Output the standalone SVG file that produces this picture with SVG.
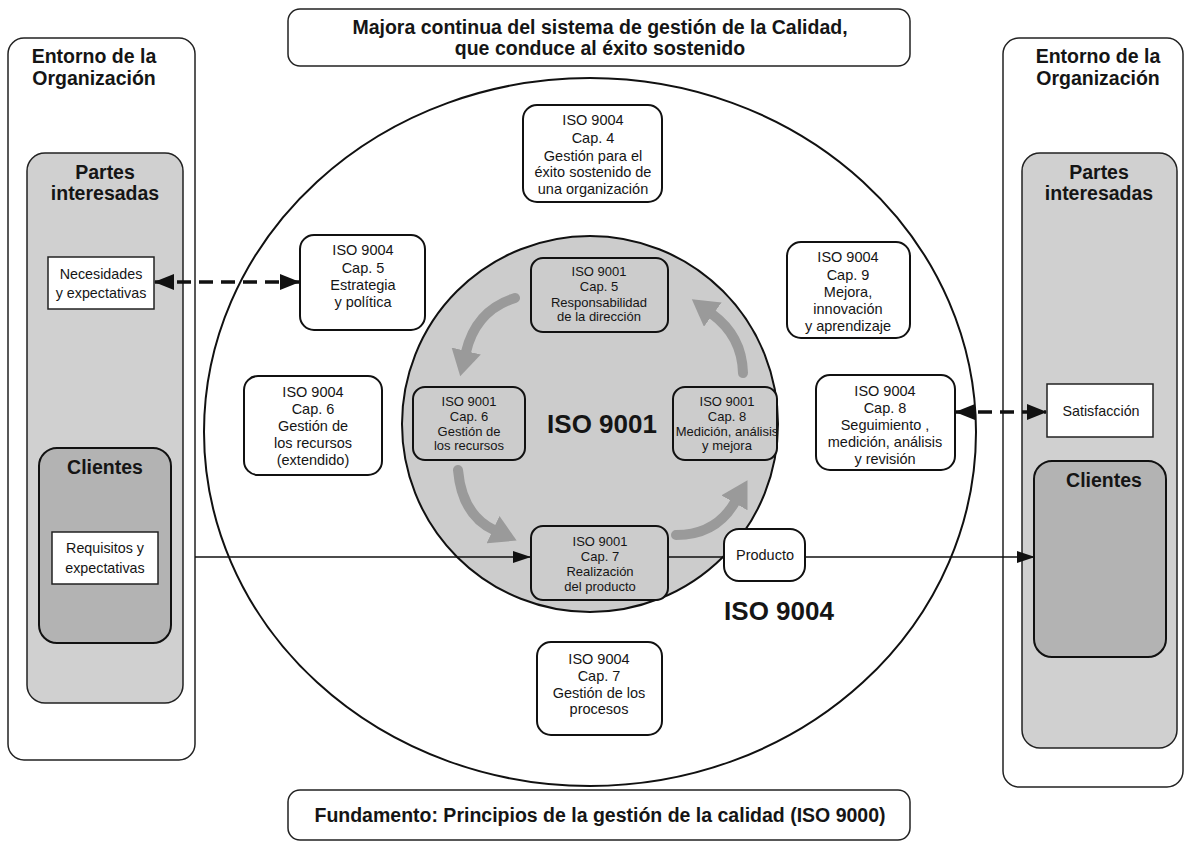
<svg xmlns="http://www.w3.org/2000/svg" width="1185" height="843" viewBox="0 0 1185 843">
<style>
text{font-family:"Liberation Sans",Arial,sans-serif;fill:#151515;text-anchor:middle}
.h{font-size:19.5px;font-weight:bold}
.big{font-size:26px;font-weight:bold}
.t4{font-size:14.5px}
.t1{font-size:13px}
.tn{font-size:14.3px}
.env{fill:#fff;stroke:#222;stroke-width:1.5}
.pi{fill:#d0d0d0;stroke:#222;stroke-width:1.5}
.cl{fill:#b3b3b3;stroke:#111;stroke-width:2}
.wb{fill:#fff;stroke:#222;stroke-width:1.5}
.b4{fill:#fff;stroke:#111;stroke-width:2}
.b1{fill:#cccccc;stroke:#111;stroke-width:2}
.ln{fill:none;stroke:#111;stroke-width:1.5}
.ds{fill:none;stroke:#111;stroke-width:3.5;stroke-dasharray:14 8}
.ga{fill:none;stroke:#9a9a9a;stroke-width:10;stroke-linecap:round}
</style>
<defs>
<marker id="ah" markerUnits="userSpaceOnUse" markerWidth="20" markerHeight="16" refX="19" refY="8" orient="auto-start-reverse">
<path d="M0,0 L20,8 L0,16 z" fill="#111"/>
</marker>
<marker id="ahs" markerUnits="userSpaceOnUse" markerWidth="18" markerHeight="12" refX="17" refY="6" orient="auto">
<path d="M0,0 L18,6 L0,12 z" fill="#111"/>
</marker>
<marker id="ga" markerUnits="userSpaceOnUse" markerWidth="27" markerHeight="30" refX="1" refY="15" orient="auto">
<path d="M0,0 L26,15 L0,30 z" fill="#9a9a9a"/>
</marker>
</defs>

<g id="title"><rect x="288" y="9" width="622" height="57" rx="12" class="wb"/>
<text class="h" x="600" y="34">Majora continua del sistema de gestión de la Calidad,</text>
<text class="h" x="600" y="55">que conduce al éxito sostenido</text></g>

<g id="fundamento"><rect x="288" y="790" width="622" height="50" rx="12" class="wb"/>
<text class="h" x="600" y="822">Fundamento: Principios de la gestión de la calidad (ISO 9000)</text></g>

<g id="entorno-izq"><rect x="8" y="38" width="187" height="722" rx="16" class="env"/>
<text class="h" x="94" y="63">Entorno de la</text><text class="h" x="94" y="85">Organización</text></g>
<g id="partes-izq"><rect x="27" y="153" width="156" height="550" rx="18" class="pi"/>
<text class="h" x="105" y="179">Partes</text><text class="h" x="105" y="200">interesadas</text></g>
<g id="necesidades"><rect x="48" y="257" width="106" height="52" class="wb"/>
<text class="tn" x="101" y="279">Necesidades</text><text class="tn" x="101" y="298">y expectativas</text></g>
<g id="clientes-izq"><rect x="39" y="448" width="132" height="195" rx="18" class="cl"/>
<text class="h" x="105" y="474">Clientes</text></g>
<g id="requisitos"><rect x="52" y="532" width="106" height="52" class="wb"/>
<text class="tn" x="105" y="553">Requisitos y</text><text class="tn" x="105" y="573">expectativas</text></g>

<g id="entorno-der"><rect x="1003" y="38" width="180" height="749" rx="16" class="env"/>
<text class="h" x="1098" y="63">Entorno de la</text><text class="h" x="1098" y="85">Organización</text></g>
<g id="partes-der"><rect x="1022" y="153" width="155" height="595" rx="18" class="pi"/>
<text class="h" x="1099" y="179">Partes</text><text class="h" x="1099" y="200">interesadas</text></g>
<g id="satisfaccion"><rect x="1047" y="384" width="106" height="53" class="wb"/>
<text class="tn" x="1101" y="416">Satisfacción</text></g>
<g id="clientes-der"><rect x="1034" y="461" width="132" height="196" rx="18" class="cl"/>
<text class="h" x="1104" y="487">Clientes</text></g>

<g id="iso9004-circle"><ellipse cx="590" cy="432" rx="386" ry="354" fill="#fff" stroke="#111" stroke-width="2"/>
<text class="big" x="779" y="620">ISO 9004</text></g>
<g id="iso9001-circle"><circle cx="590" cy="424" r="188" fill="#cccccc" stroke="#111" stroke-width="2"/>
<text class="big" x="602" y="433">ISO 9001</text></g>

<g id="connectors">
<line x1="195" y1="557" x2="530" y2="557" class="ln" marker-end="url(#ahs)"/>
<line x1="668" y1="557" x2="724" y2="557" class="ln"/>
<line x1="805" y1="557" x2="1034" y2="557" class="ln" marker-end="url(#ahs)"/>
<line x1="155" y1="282" x2="299" y2="282" class="ds" marker-start="url(#ah)" marker-end="url(#ah)"/>
<line x1="956" y1="412" x2="1046" y2="412" class="ds" marker-start="url(#ah)" marker-end="url(#ah)"/>
<path d="M515,298 Q476,310 466,352" class="ga" marker-end="url(#ga)"/>
<path d="M458,470 Q462,515 494,530" class="ga" marker-end="url(#ga)"/>
<path d="M676,535 Q716,535 735,502" class="ga" marker-end="url(#ga)"/>
<path d="M743,373 Q742,336 712,314" class="ga" marker-end="url(#ga)"/>
</g>

<g id="iso9004-cap4"><rect x="523" y="105" width="139" height="97" rx="14" class="b4"/>
<text class="t4" x="593" y="125">ISO 9004</text><text class="t4" x="593" y="143">Cap. 4</text><text class="t4" x="593" y="161">Gestión para el</text><text class="t4" x="593" y="177">éxito sostenido de</text><text class="t4" x="593" y="194">una organización</text></g>
<g id="iso9004-cap5"><rect x="300" y="235" width="125" height="95" rx="14" class="b4"/>
<text class="t4" x="363" y="255">ISO 9004</text><text class="t4" x="363" y="273">Cap. 5</text><text class="t4" x="363" y="290">Estrategia</text><text class="t4" x="363" y="307">y política</text></g>
<g id="iso9004-cap6"><rect x="244" y="376" width="138" height="99" rx="14" class="b4"/>
<text class="t4" x="313" y="397">ISO 9004</text><text class="t4" x="313" y="414">Cap. 6</text><text class="t4" x="313" y="431">Gestión de</text><text class="t4" x="313" y="448">los recursos</text><text class="t4" x="313" y="465">(extendido)</text></g>
<g id="iso9004-cap7"><rect x="537" y="642" width="125" height="93" rx="14" class="b4"/>
<text class="t4" x="599" y="664">ISO 9004</text><text class="t4" x="599" y="681">Cap. 7</text><text class="t4" x="599" y="698">Gestión de los</text><text class="t4" x="599" y="714">procesos</text></g>
<g id="iso9004-cap9"><rect x="787" y="242" width="123" height="96" rx="14" class="b4"/>
<text class="t4" x="848" y="262">ISO 9004</text><text class="t4" x="848" y="280">Cap. 9</text><text class="t4" x="848" y="297">Mejora,</text><text class="t4" x="848" y="314">innovación</text><text class="t4" x="848" y="331">y aprendizaje</text></g>
<g id="iso9004-cap8"><rect x="816" y="375" width="139" height="95" rx="14" class="b4"/>
<text class="t4" x="885" y="396">ISO 9004</text><text class="t4" x="885" y="413">Cap. 8</text><text class="t4" x="885" y="430">Seguimiento ,</text><text class="t4" x="885" y="447">medición, análisis</text><text class="t4" x="885" y="464">y revisión</text></g>

<g id="iso9001-cap5"><rect x="531" y="258" width="137" height="74" rx="12" class="b1"/>
<text class="t1" x="599" y="276">ISO 9001</text><text class="t1" x="599" y="291">Cap. 5</text><text class="t1" x="599" y="307">Responsabilidad</text><text class="t1" x="599" y="321">de la dirección</text></g>
<g id="iso9001-cap6"><rect x="413" y="387" width="112" height="73" rx="12" class="b1"/>
<text class="t1" x="469" y="406">ISO 9001</text><text class="t1" x="469" y="421">Cap. 6</text><text class="t1" x="469" y="436">Gestión de</text><text class="t1" x="469" y="450">los recursos</text></g>
<g id="iso9001-cap8"><rect x="673" y="387" width="104" height="73" rx="12" class="b1"/>
<text class="t1" x="727" y="406">ISO 9001</text><text class="t1" x="727" y="421">Cap. 8</text><text class="t1" x="727" y="436">Medición, análisis</text><text class="t1" x="727" y="450">y mejora</text></g>
<g id="iso9001-cap7"><rect x="531" y="526" width="137" height="74" rx="12" class="b1"/>
<text class="t1" x="600" y="546">ISO 9001</text><text class="t1" x="600" y="561">Cap. 7</text><text class="t1" x="600" y="576">Realización</text><text class="t1" x="600" y="591">del producto</text></g>
<g id="producto"><rect x="724" y="529" width="81" height="52" rx="15" class="b4"/>
<text class="t4" x="765" y="560">Producto</text></g>
</svg>
